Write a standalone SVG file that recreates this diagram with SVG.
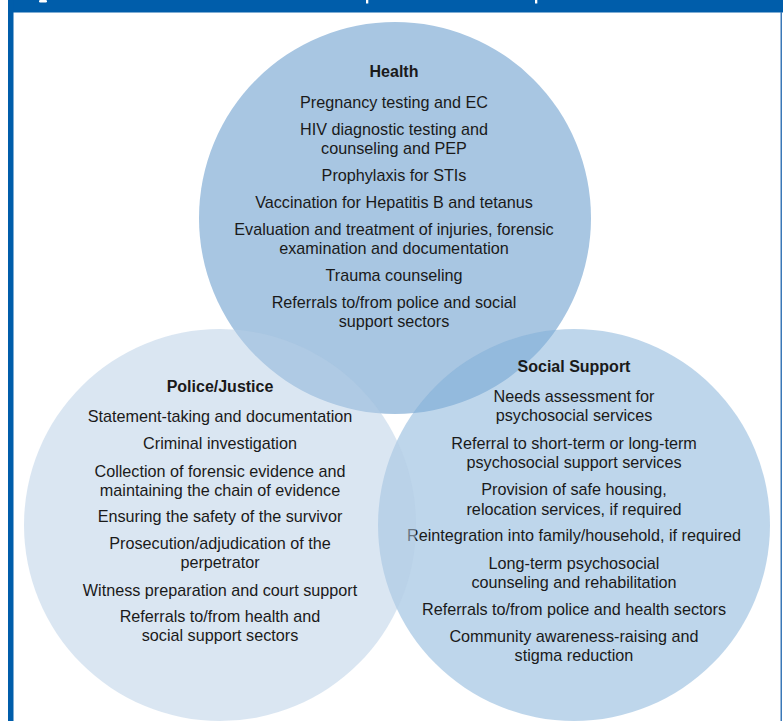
<svg xmlns="http://www.w3.org/2000/svg" width="783" height="721" viewBox="0 0 783 721">
<style>
text{font-family:"Liberation Sans",Arial,sans-serif;font-size:16.2px;fill:#1a1a1a;text-anchor:middle}
.t{font-weight:bold;font-size:16px}
</style>
<rect x="0" y="0" width="783" height="721" fill="#ffffff"/>
<g id="frame">
<rect x="8" y="0" width="775" height="12.5" fill="#005DAA"/>
<rect x="8" y="0" width="5.5" height="721" fill="#005DAA"/>
<rect x="780.5" y="12" width="1.5" height="709" fill="#3a78b8"/>
<rect x="39" y="0" width="8" height="2.5" rx="1.2" fill="#ffffff"/>
<rect x="366" y="0" width="2.3" height="3.5" fill="#ffffff"/>
<rect x="535" y="0" width="2.3" height="3.5" fill="#ffffff"/>
</g>
<g id="health-circle">
<circle cx="395" cy="218" r="196" fill="#A8C6E2"/>
</g>
<g id="social-support">
<circle cx="574" cy="525" r="196" fill="#7DADD7" fill-opacity="0.5"/>
<text class="t" x="574" y="372">Social Support</text>
<text x="574" y="402">Needs assessment for</text>
<text x="574" y="421">psychosocial services</text>
<text x="574" y="449">Referral to short-term or long-term</text>
<text x="574" y="468">psychosocial support services</text>
<text x="574" y="495">Provision of safe housing,</text>
<text x="574" y="514.5">relocation services, if required</text>
<text x="574" y="541">Reintegration into family/household, if required</text>
<text x="574" y="568.5">Long-term psychosocial</text>
<text x="574" y="587.5">counseling and rehabilitation</text>
<text x="574" y="614.5">Referrals to/from police and health sectors</text>
<text x="574" y="642">Community awareness-raising and</text>
<text x="574" y="661">stigma reduction</text>
</g>
<g id="police-justice">
<circle cx="220" cy="525" r="196" fill="#B5CDE5" fill-opacity="0.5"/>
<text class="t" x="220" y="392">Police/Justice</text>
<text x="220" y="422">Statement-taking and documentation</text>
<text x="220" y="449">Criminal investigation</text>
<text x="220" y="477">Collection of forensic evidence and</text>
<text x="220" y="496">maintaining the chain of evidence</text>
<text x="220" y="522">Ensuring the safety of the survivor</text>
<text x="220" y="548.5">Prosecution/adjudication of the</text>
<text x="220" y="568">perpetrator</text>
<text x="220" y="595.5">Witness preparation and court support</text>
<text x="220" y="622">Referrals to/from health and</text>
<text x="220" y="641">social support sectors</text>
</g>
<g id="health">
<text class="t" x="394" y="77">Health</text>
<text x="394" y="108">Pregnancy testing and EC</text>
<text x="394" y="134.5">HIV diagnostic testing and</text>
<text x="394" y="153.5">counseling and PEP</text>
<text x="394" y="180.5">Prophylaxis for STIs</text>
<text x="394" y="207.5">Vaccination for Hepatitis B and tetanus</text>
<text x="394" y="234.5">Evaluation and treatment of injuries, forensic</text>
<text x="394" y="253.5">examination and documentation</text>
<text x="394" y="280.5">Trauma counseling</text>
<text x="394" y="307.5">Referrals to/from police and social</text>
<text x="394" y="326.5">support sectors</text>
</g>
<g id="connectors"></g>
</svg>
